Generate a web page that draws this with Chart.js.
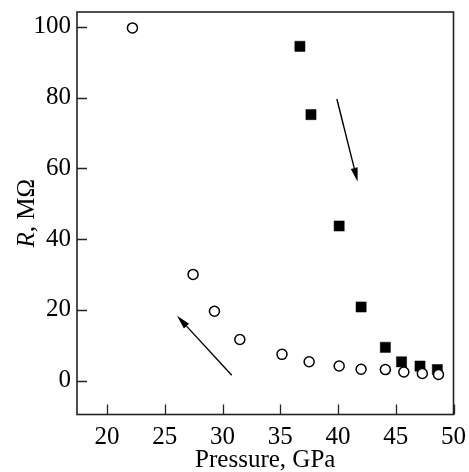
<!DOCTYPE html>
<html>
<head>
<meta charset="utf-8">
<script src="https://cdn.jsdelivr.net/npm/chart.js@4"></script>
<style>
  html, body { margin: 0; padding: 0; background: #fff; }
  #wrap { width: 469px; height: 472px; }
</style>
</head>
<body>
<div id="wrap"><canvas id="chart" width="469" height="472"></canvas></div>
<script>
// decreasing pressure (open circles)
const downPressure = [22.2, 27.45, 29.3, 31.5, 35.15, 37.5, 40.1, 42.0, 44.1, 45.7, 47.3, 48.7];
const downR = [99.7, 30.0, 19.6, 11.6, 7.4, 5.3, 4.1, 3.2, 3.1, 2.4, 2.0, 1.7];

// increasing pressure (filled squares)
const upPressure = [36.7, 37.66, 40.1, 42.0, 44.1, 45.5, 47.1, 48.6];
const upR = [94.5, 75.2, 43.7, 20.8, 9.4, 5.3, 4.1, 3.1];

const xTicks = [20, 25, 30, 35, 40, 45, 50];
const yTicks = [0, 20, 40, 60, 80, 100];

// arrows: [fromX, fromY, toX, toY] in data units
const arrows = [
  [39.9, 79.6, 41.7, 56.2],
  [30.8, 1.5, 26.06, 18.3]
];

const FONT = '"Liberation Serif", "Times New Roman", serif';
const INK = '#222';

const toPoints = (xs, ys) => xs.map((x, i) => ({ x, y: ys[i] }));

// frame, inward ticks, arrows, y title
const decorations = {
  id: 'decorations',
  afterDraw(chart) {
    const ctx = chart.ctx;
    const a = chart.chartArea;
    const xs = chart.scales.x, ys = chart.scales.y;
    ctx.save();
    ctx.strokeStyle = INK;
    ctx.lineWidth = 1.6;
    ctx.strokeRect(a.left, a.top, a.right - a.left, a.bottom - a.top);

    ctx.lineWidth = 1.3;
    ctx.beginPath();
    xTicks.forEach(v => {
      const px = Math.round(xs.getPixelForValue(v)) + 0.5;
      ctx.moveTo(px, a.bottom);
      ctx.lineTo(px, a.bottom - 10);
    });
    yTicks.forEach(v => {
      const py = Math.round(ys.getPixelForValue(v)) + 0.5;
      ctx.moveTo(a.left, py);
      ctx.lineTo(a.left + 10, py);
    });
    ctx.stroke();

    // arrows
    ctx.strokeStyle = '#000';
    ctx.fillStyle = '#000';
    ctx.lineWidth = 1.4;
    arrows.forEach(([x0, y0, x1, y1]) => {
      const p0 = [xs.getPixelForValue(x0), ys.getPixelForValue(y0)];
      const p1 = [xs.getPixelForValue(x1), ys.getPixelForValue(y1)];
      const ang = Math.atan2(p1[1] - p0[1], p1[0] - p0[0]);
      const len = 14, half = 3.5;
      const bx = p1[0] - len * Math.cos(ang), by = p1[1] - len * Math.sin(ang);
      ctx.beginPath();
      ctx.moveTo(p0[0], p0[1]);
      ctx.lineTo(bx, by);
      ctx.stroke();
      ctx.beginPath();
      ctx.moveTo(p1[0], p1[1]);
      ctx.lineTo(bx + half * Math.sin(ang), by - half * Math.cos(ang));
      ctx.lineTo(bx - half * Math.sin(ang), by + half * Math.cos(ang));
      ctx.closePath();
      ctx.fill();
    });

    // y title with italic R
    const cy = (a.top + a.bottom) / 2;
    ctx.translate(27, cy);
    ctx.rotate(-Math.PI / 2);
    ctx.fillStyle = '#000';
    ctx.textBaseline = 'middle';
    ctx.font = 'italic 25px ' + FONT;
    const w1 = ctx.measureText('R').width;
    ctx.font = '25px ' + FONT;
    const w2 = ctx.measureText(', MΩ').width;
    let x = -(w1 + w2) / 2;
    ctx.textAlign = 'left';
    ctx.font = 'italic 25px ' + FONT;
    ctx.fillText('R', x, 0);
    ctx.font = '25px ' + FONT;
    ctx.fillText(', MΩ', x + w1, 0);
    ctx.restore();
  }
};

new Chart(document.getElementById('chart'), {
  type: 'scatter',
  data: {
    datasets: [
      {
        label: 'decreasing',
        data: toPoints(downPressure, downR),
        pointStyle: 'circle',
        pointRadius: 5,
        pointBorderWidth: 1.5,
        pointBackgroundColor: '#fff',
        pointBorderColor: '#000'
      },
      {
        label: 'increasing',
        data: toPoints(upPressure, upR),
        pointStyle: 'rect',
        pointRadius: 7.2,
        pointBorderWidth: 0.5,
        pointBackgroundColor: '#000',
        pointBorderColor: '#000'
      }
    ]
  },
  options: {
    responsive: false,
    animation: false,
    layout: { padding: { left: 0, top: 12, right: 15.5, bottom: 0 } },
    plugins: {
      legend: { display: false },
      tooltip: { enabled: false }
    },
    scales: {
      x: {
        type: 'linear',
        min: 17.4,
        max: 50,
        afterBuildTicks: s => { s.ticks = xTicks.map(v => ({ value: v })); },
        afterFit: s => { s.height = 57.5; s.paddingLeft = 0; s.paddingRight = 0; },
        grid: { display: false, drawTicks: false },
        border: { display: false },
        ticks: { color: '#000', font: { family: FONT, size: 25 }, padding: 8, maxRotation: 0 },
        title: { display: true, text: 'Pressure, GPa', color: '#000', font: { family: FONT, size: 25 }, padding: { top: 0, bottom: -3 } }
      },
      y: {
        type: 'linear',
        min: -9.6,
        max: 104.2,
        afterBuildTicks: s => { s.ticks = yTicks.map(v => ({ value: v })); },
        afterFit: s => { s.width = 77; s.paddingTop = 0; s.paddingBottom = 0; },
        grid: { display: false, drawTicks: false },
        border: { display: false },
        ticks: { color: '#000', font: { family: FONT, size: 25 }, padding: 6 }
      }
    }
  },
  plugins: [decorations]
});
</script>
</body>
</html>
